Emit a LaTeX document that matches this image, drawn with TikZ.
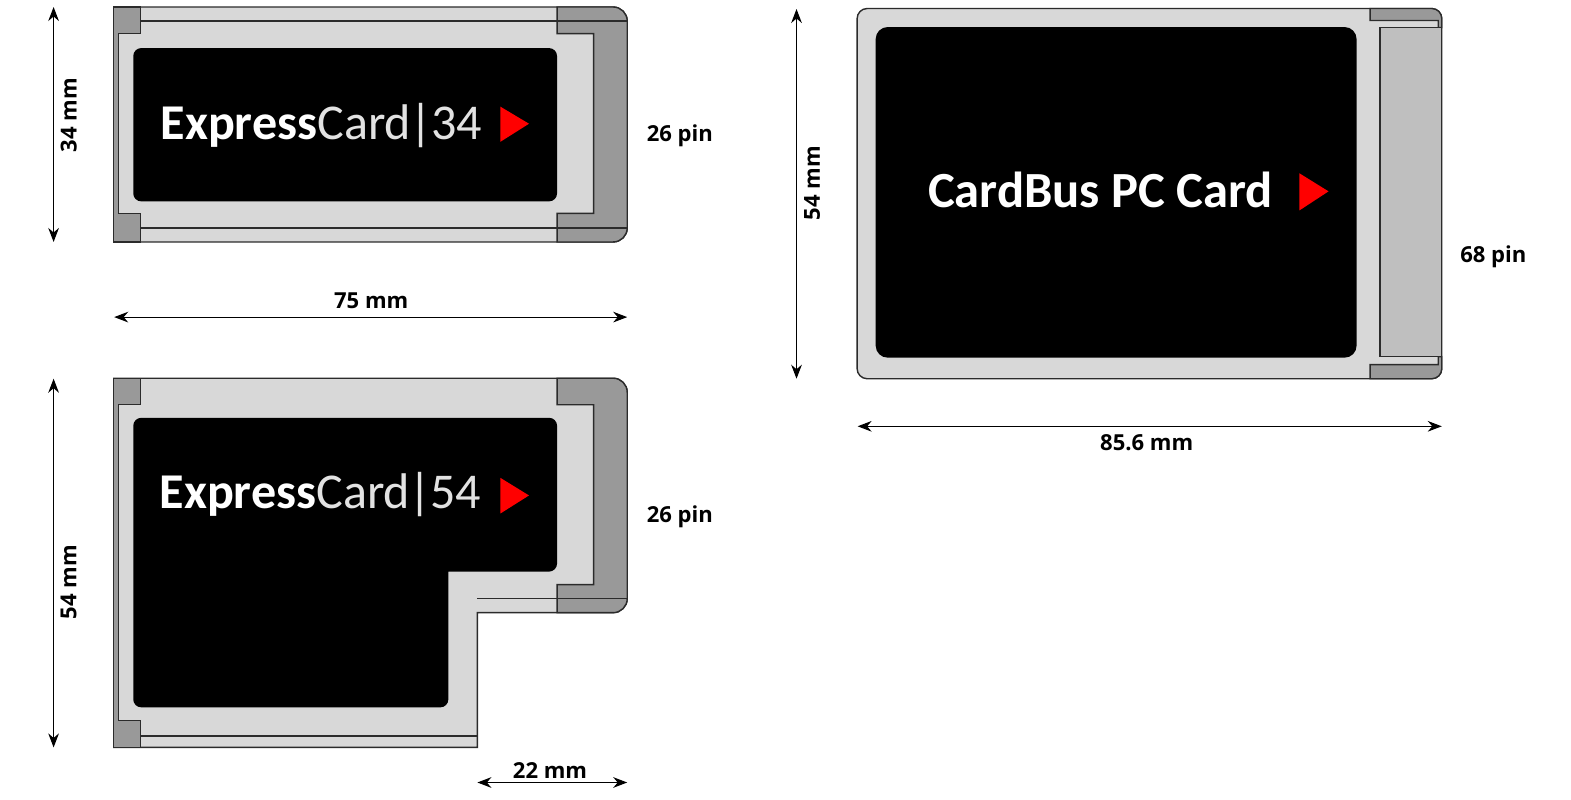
\documentclass[tikz,border=0pt]{standalone}
\usepackage{fontspec}
\usetikzlibrary{arrows.meta}
\setmainfont{Open Sans}
\newfontfamily\logofont{Carlito}
\definecolor{cardbody}{HTML}{D8D8D8}
\definecolor{cardgrey}{HTML}{999999}
\definecolor{cardslot}{HTML}{BFBFBF}
\definecolor{edge}{HTML}{2B2B2B}
\definecolor{logolight}{HTML}{E2E2E2}
\tikzset{
  outline/.style={draw=edge,line width=1.05pt,line join=miter},
  body/.style={outline,fill=cardbody},
  metal/.style={outline,fill=cardgrey},
  slot/.style={outline,fill=cardslot},
  thinrule/.style={draw=edge,line width=1.05pt},
  label/.style={black,font=\fontsize{16.5}{18}\selectfont\bfseries,inner sep=0pt},
  logo/.style={white,font=\logofont\fontsize{37.5}{40}\selectfont,inner sep=0pt,anchor=base west},
  dim/.style={black,line width=0.8pt,{Stealth[length=10.5pt,width=8pt]}-{Stealth[length=10.5pt,width=8pt]}},
  play/.style={fill=red,draw=none},
  panel/.style={fill=black,draw=none}
}
\newcommand{\expresslogo}[1]{\textbf{Express}\textcolor{logolight}{Card\kern-1.6pt|\kern-0.5pt#1}}
\begin{document}
\begin{tikzpicture}[x=0.75pt,y=-0.75pt]
\useasboundingbox (0,0) rectangle (1568,798.4);

% ---------- ExpressCard 34 ----------
\path[body] (113.5,7) -- (612,7) arc[start angle=270,end angle=360,radius=14] -- (626,227.5) arc[start angle=0,end angle=90,radius=14] -- (113.5,241.5) -- cycle;
\path[metal] (113.5,7) -- (140.5,7) -- (140.5,33.5) -- (118.5,33.5) -- (118.5,213) -- (140.5,213) -- (140.5,241.5) -- (113.5,241.5) -- cycle;
\path[metal] (556,7) -- (612,7) arc[start angle=270,end angle=360,radius=14] -- (626,227.5) arc[start angle=0,end angle=90,radius=14] -- (556,241.5) -- (556,213) -- (592.5,213) -- (592.5,33.5) -- (556,33.5) -- cycle;
\draw[thinrule] (140.5,21) -- (626,21);
\draw[thinrule] (140.5,227.5) -- (626,227.5);
\path[panel,rounded corners=6pt] (133,48) rectangle (556,201);
\node[logo] (logoA) at (160,139) {\expresslogo{34}};
\path[play] (499.5,106.5) -- (528,123.5) -- (499.5,141.5) -- cycle;

% ---------- ExpressCard 54 ----------
\path[body] (113.5,377.5) -- (612,377.5) arc[start angle=270,end angle=360,radius=14] -- (626,597.5) arc[start angle=0,end angle=90,radius=14] -- (476.5,611.5) -- (476.5,746) -- (113.5,746) -- cycle;
\path[metal] (113.5,377.5) -- (140.5,377.5) -- (140.5,404) -- (118.5,404) -- (118.5,719) -- (140.5,719) -- (140.5,746) -- (113.5,746) -- cycle;
\path[metal] (556,377.5) -- (612,377.5) arc[start angle=270,end angle=360,radius=14] -- (626,597.5) arc[start angle=0,end angle=90,radius=14] -- (556,611.5) -- (556,583.5) -- (592.5,583.5) -- (592.5,404) -- (556,404) -- cycle;
\draw[thinrule] (476.5,597.5) -- (626,597.5);
\draw[thinrule] (140.5,734.5) -- (476.5,734.5);
\path[panel] (141,417) -- (548,417) arc[start angle=270,end angle=360,radius=8] -- (556,562.5) arc[start angle=0,end angle=90,radius=8] -- (447.5,570.5) -- (447.5,698) arc[start angle=0,end angle=90,radius=8] -- (141,706) arc[start angle=90,end angle=180,radius=8] -- (133,425) arc[start angle=180,end angle=270,radius=8] -- cycle;
\node[logo] (logoB) at (159,508) {\expresslogo{54}};
\path[play] (499.5,477) -- (528,494.5) -- (499.5,512.5) -- cycle;

% ---------- CardBus ----------
\path[body] (865.5,8.5) -- (1429,8.5) arc[start angle=270,end angle=360,radius=10] -- (1439,368) arc[start angle=0,end angle=90,radius=10] -- (865.5,378) arc[start angle=90,end angle=180,radius=10] -- (855.5,18.5) arc[start angle=180,end angle=270,radius=10] -- cycle;
\path[metal] (1367.5,8.5) -- (1429,8.5) arc[start angle=270,end angle=360,radius=10] -- (1439,27.5) -- (1435.5,27.5) -- (1435.5,20.5) -- (1367.5,20.5) -- cycle;
\path[metal] (1367.5,378) -- (1429,378) arc[start angle=90,end angle=0,radius=10] -- (1439,356) -- (1435.5,356) -- (1435.5,364) -- (1367.5,364) -- cycle;
\path[slot] (1439,27.5) -- (1377.5,27.5) -- (1377.5,356) -- (1439,356) -- cycle;
\path[panel,rounded corners=9pt] (874,27) rectangle (1354,357);
\node[logo,font=\logofont\bfseries\fontsize{37.9}{40}\selectfont] (logoC) at (926,207) {CardBus PC Card};
\path[play] (1297,173) -- (1326,191) -- (1297,210) -- cycle;

% ---------- dimensions ----------
\coordinate (a1) at (53.5,7);     \coordinate (a2) at (53.5,241.5);
\coordinate (b1) at (114,316.5);  \coordinate (b2) at (626,316.5);
\coordinate (c1) at (53.5,378);   \coordinate (c2) at (53.5,746);
\coordinate (d1) at (476.5,781);  \coordinate (d2) at (626,781);
\coordinate (e1) at (795,9);      \coordinate (e2) at (795,378);
\coordinate (f1) at (856,425.5);  \coordinate (f2) at (1439,425.5);
\draw[dim] (a1) -- (a2);
\draw[dim] (b1) -- (b2);
\draw[dim] (c1) -- (c2);
\draw[dim] (d1) -- (d2);
\draw[dim] (e1) -- (e2);
\draw[dim] (f1) -- (f2);

\node[label,rotate=90] (la) at (68.5,115) {34 mm};
\node[label] (lb) at (678.5,136) {26 pin};
\node[label] (lc) at (370.5,300) {75 mm};
\node[label,rotate=90] (ld) at (68.5,581) {54 mm};
\node[label] (le) at (678.5,516) {26 pin};
\node[label] (lf) at (549,769) {22 mm};
\node[label,rotate=90] (lg) at (810.5,183) {54 mm};
\node[label] (lh) at (1490.5,256.5) {68 pin};
\node[label] (li) at (1144.5,442) {85.6 mm};
\end{tikzpicture}
\end{document}
